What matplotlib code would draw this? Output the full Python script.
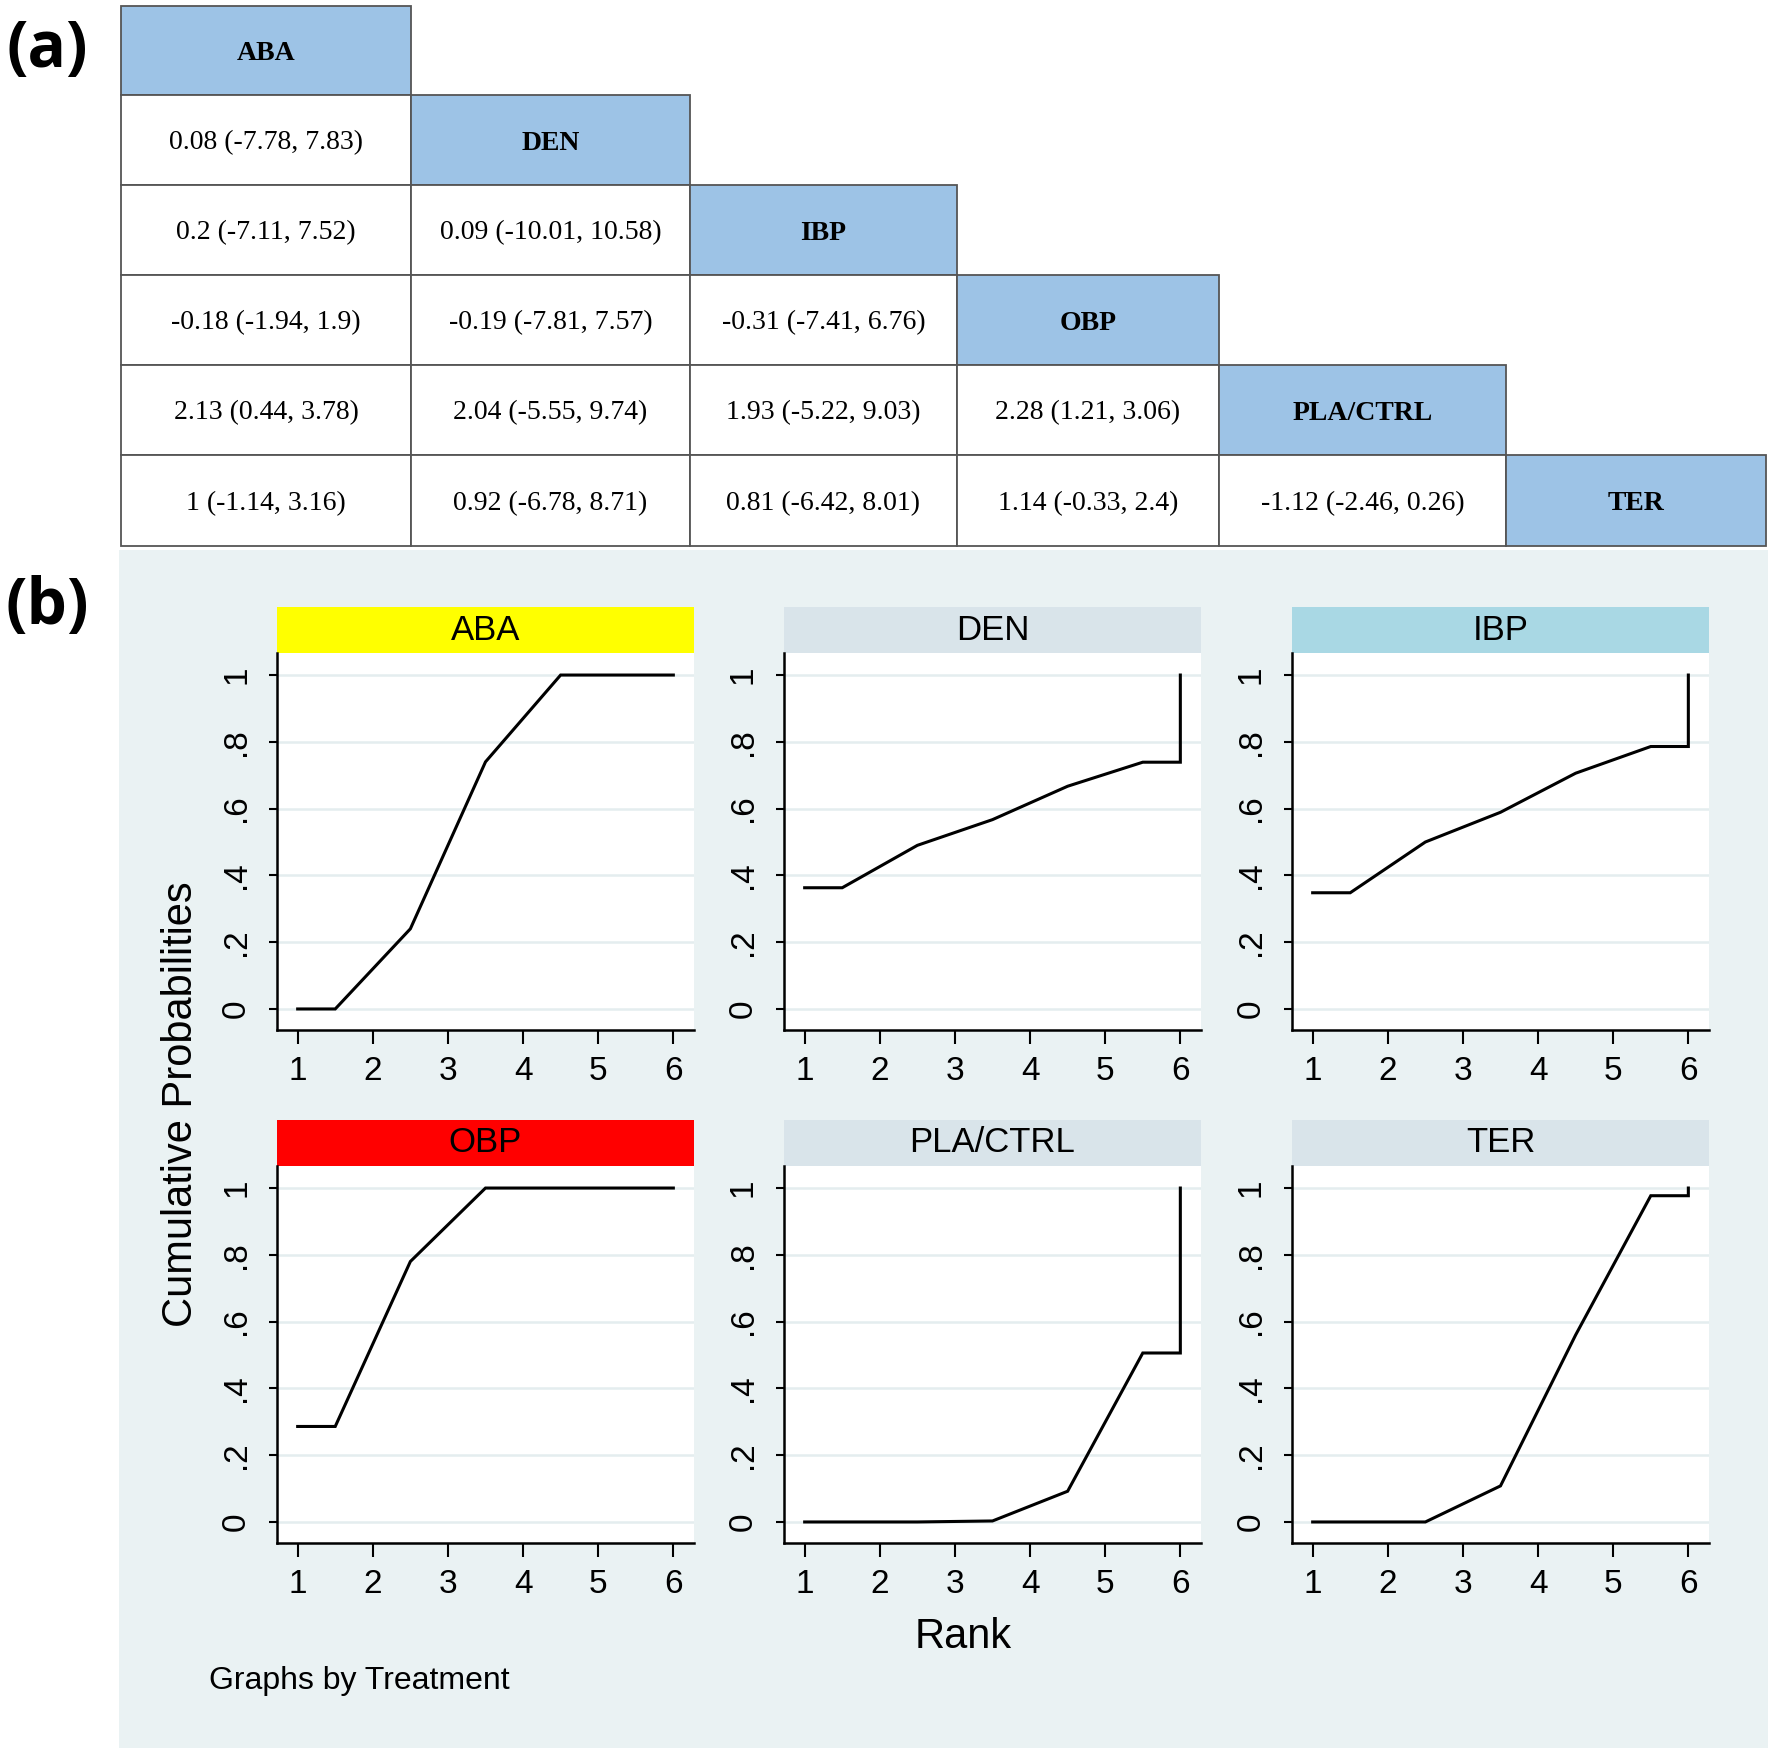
import matplotlib
matplotlib.use("Agg")
import matplotlib.pyplot as plt
from matplotlib.patches import Rectangle

# ---- data ----
treatments = ["ABA", "DEN", "IBP", "OBP", "PLA/CTRL", "TER"]

# league table, lower triangle (row i, columns 0..i-1)
league = [
    [],
    ["0.08 (-7.78, 7.83)"],
    ["0.2 (-7.11, 7.52)", "0.09 (-10.01, 10.58)"],
    ["-0.18 (-1.94, 1.9)", "-0.19 (-7.81, 7.57)", "-0.31 (-7.41, 6.76)"],
    ["2.13 (0.44, 3.78)", "2.04 (-5.55, 9.74)", "1.93 (-5.22, 9.03)", "2.28 (1.21, 3.06)"],
    ["1 (-1.14, 3.16)", "0.92 (-6.78, 8.71)", "0.81 (-6.42, 8.01)", "1.14 (-0.33, 2.4)",
     "-1.12 (-2.46, 0.26)"],
]

# cumulative ranking curves
aba_x = [1, 1.5, 2.5, 3.5, 4.5, 5.5, 6]
aba_y = [0, 0, 0.24, 0.74, 1.0, 1.0, 1.0]
den_x = [1, 1.5, 2.5, 3.5, 4.5, 5.5, 6, 6]
den_y = [0.363, 0.363, 0.49, 0.567, 0.667, 0.739, 0.739, 1.0]
ibp_x = [1, 1.5, 2.5, 3.5, 4.5, 5.5, 6, 6]
ibp_y = [0.348, 0.348, 0.50, 0.589, 0.706, 0.786, 0.786, 1.0]
obp_x = [1, 1.5, 2.5, 3.5, 4.5, 5.5, 6]
obp_y = [0.286, 0.286, 0.78, 1.0, 1.0, 1.0, 1.0]
pla_x = [1, 1.5, 2.5, 3.5, 4.5, 5.5, 6, 6]
pla_y = [0, 0, 0.0, 0.003, 0.092, 0.506, 0.506, 1.0]
ter_x = [1, 1.5, 2.5, 3.5, 4.5, 5.5, 6, 6]
ter_y = [0, 0, 0, 0.108, 0.56, 0.977, 0.977, 1.0]

curves = [(aba_x, aba_y), (den_x, den_y), (ibp_x, ibp_y),
          (obp_x, obp_y), (pla_x, pla_y), (ter_x, ter_y)]
strip_colors = ["#ffff00", "#d9e4ea", "#a9d8e4", "#ff0000", "#d9e4ea", "#d9e4ea"]

rank_ticks = [1, 2, 3, 4, 5, 6]
prob_ticks = [0, 0.2, 0.4, 0.6, 0.8, 1.0]
prob_labels = ["0", ".2", ".4", ".6", ".8", "1"]

# ---- figure ----
W, H = 1772, 1753
fig = plt.figure(figsize=(W / 100, H / 100), dpi=100)
fig.patch.set_facecolor("white")

# overlay axes in pixel coordinates for table, background and labels
base = fig.add_axes([0, 0, 1, 1])
base.set_xlim(0, W)
base.set_ylim(H, 0)
base.axis("off")

# panel (b) background
base.add_patch(Rectangle((119, 550), 1768 - 119, 1748 - 550,
                         facecolor="#eaf2f3", edgecolor="none", zorder=0))

# league table
col_edges = [121, 411, 690, 957, 1219, 1506, 1766]
row_edges = [6, 95, 185, 275, 365, 455, 546]
serif = "Liberation Serif"
for i, name in enumerate(treatments):
    y0, y1 = row_edges[i], row_edges[i + 1]
    for j in range(i + 1):
        x0, x1 = col_edges[j], col_edges[j + 1]
        if j == i:
            base.add_patch(Rectangle((x0, y0), x1 - x0, y1 - y0, facecolor="#9dc3e6",
                                     edgecolor="#555555", linewidth=1.3, zorder=2))
            base.text((x0 + x1) / 2, (y0 + y1) / 2 + 3, name, ha="center", va="center",
                      fontsize=20, fontweight="bold", family=serif, zorder=3)
        else:
            base.add_patch(Rectangle((x0, y0), x1 - x0, y1 - y0, facecolor="white",
                                     edgecolor="#555555", linewidth=1.3, zorder=2))
            base.text((x0 + x1) / 2, (y0 + y1) / 2 + 3, league[i][j], ha="center",
                      va="center", fontsize=20, family=serif, zorder=3)

base.text(47, 50, "(a)", ha="center", va="center", fontsize=46,
          fontweight="bold", family="Open Sans")
base.text(47, 607, "(b)", ha="center", va="center", fontsize=46,
          fontweight="bold", family="Open Sans")

sans = "Liberation Sans"
base.text(181, 1104, "Cumulative Probabilities", rotation=90, ha="center",
          va="center", fontsize=30, family=sans)
base.text(963, 1637, "Rank", ha="center", va="center", fontsize=30, family=sans)
base.text(209, 1681, "Graphs by Treatment", ha="left", va="center",
          fontsize=23, family=sans)

# ranking panels
col_left = [277, 784, 1292]
row_top = [653, 1166]
pw, ph, sh = 417, 377, 46

for k, (xs, ys) in enumerate(curves):
    r, c = divmod(k, 3)
    left = col_left[c]
    top = row_top[r]
    ax = fig.add_axes([left / W, 1 - (top + ph) / H, pw / W, ph / H])
    ax.set_facecolor("white")
    ax.set_xlim(0.725, 6.275)
    ax.set_ylim(-0.063, 1.066)
    for yv in prob_ticks:
        ax.axhline(yv, color="#e4edef", linewidth=1.8, zorder=1)
    ax.plot(xs, ys, color="black", linewidth=2.2, zorder=3,
            solid_joinstyle="miter")
    for s in ["top", "right"]:
        ax.spines[s].set_visible(False)
    for s in ["left", "bottom"]:
        ax.spines[s].set_linewidth(1.8)
    ax.set_xticks(rank_ticks)
    ax.set_xticklabels([str(t) for t in rank_ticks], fontsize=24, family=sans)
    ax.set_yticks(prob_ticks)
    ax.set_yticklabels(prob_labels, fontsize=24, family=sans, rotation=90,
                       va="center")
    ax.tick_params(axis="x", length=10, width=1.5, pad=9)
    ax.tick_params(axis="y", length=6, width=1.5, pad=12)
    # strip header
    ax.add_patch(Rectangle((0, 1), 1, sh / ph, transform=ax.transAxes,
                           facecolor=strip_colors[k], edgecolor="none",
                           clip_on=False, zorder=2))
    ax.text(0.5, 1 + sh / ph / 2, treatments[k], transform=ax.transAxes,
            ha="center", va="center", fontsize=25, family=sans)

fig.savefig("out.png", dpi=100)
